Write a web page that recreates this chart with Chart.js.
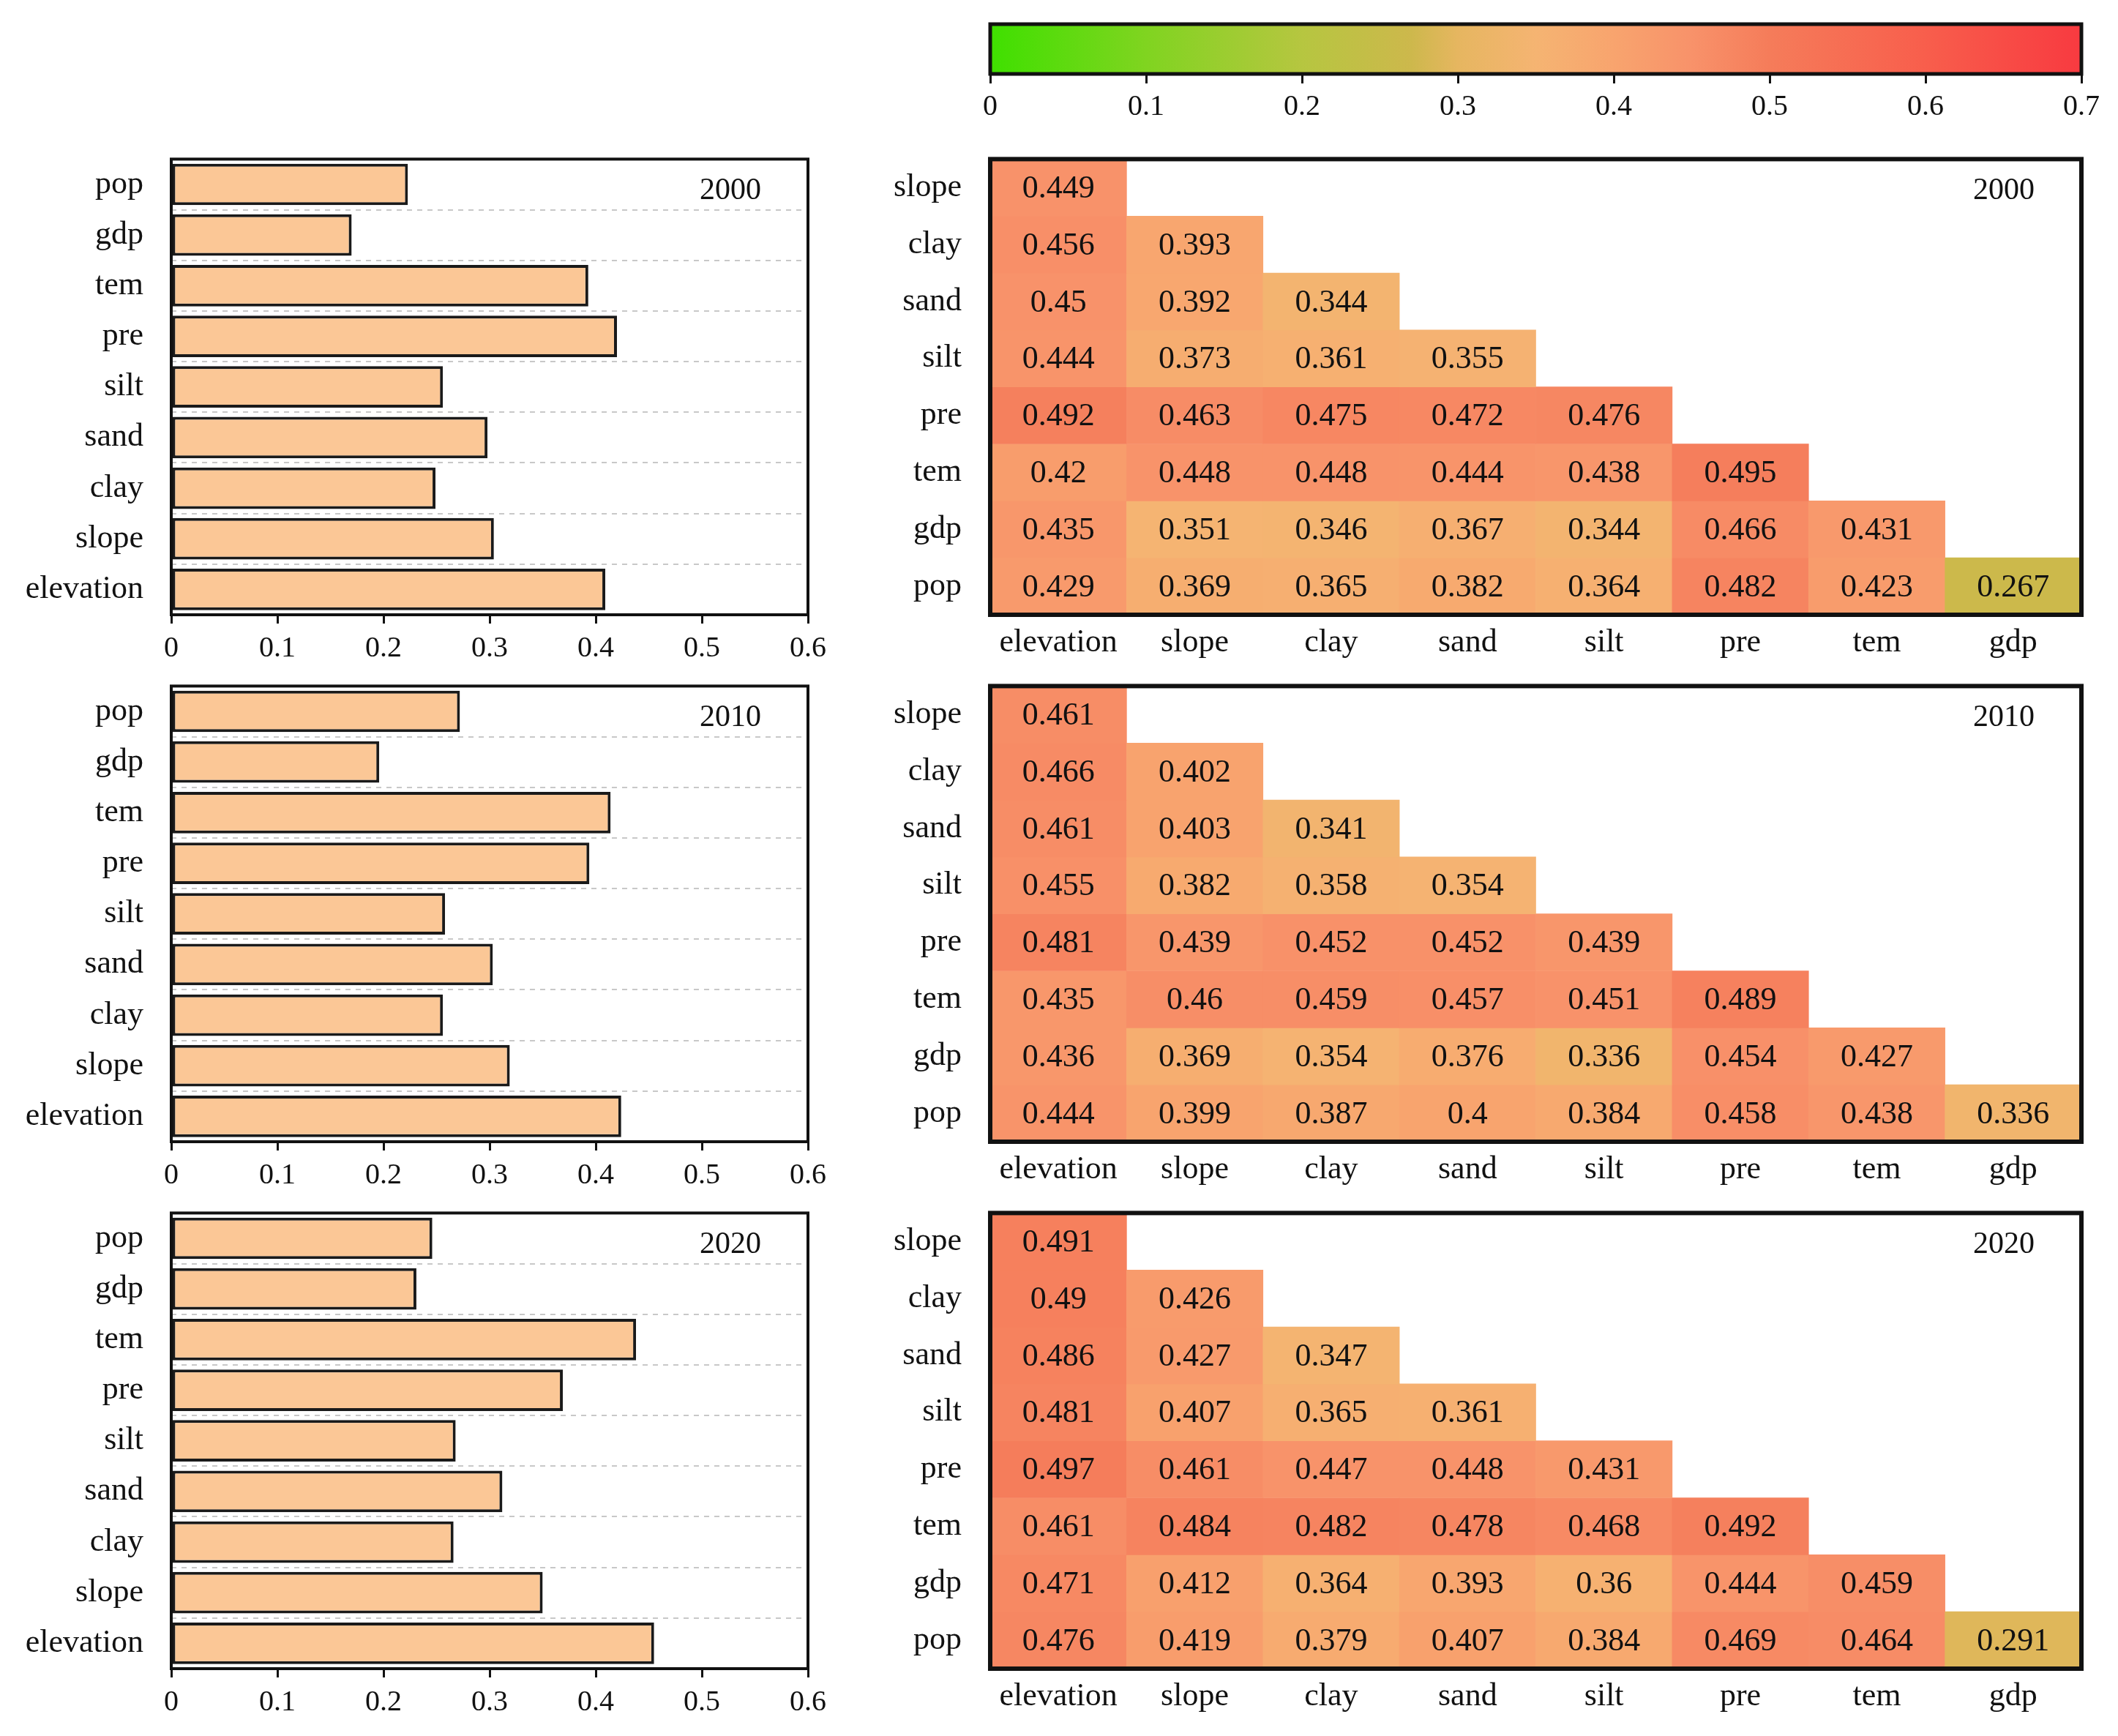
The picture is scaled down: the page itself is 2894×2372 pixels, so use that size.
<!DOCTYPE html>
<html><head><meta charset="utf-8">
<script src="https://cdn.jsdelivr.net/npm/chart.js@4/dist/chart.umd.min.js"></script>
<style>
html,body{margin:0;padding:0;background:#fff;}
body{width:2894px;height:2372px;position:relative;overflow:hidden;}
canvas{position:absolute;}
</style></head><body>
<canvas id="cb" width="1694" height="190" style="left:1200px;top:0px"></canvas>
<canvas id="bar0" width="1150" height="729" style="left:0px;top:191px"></canvas>
<canvas id="bar1" width="1150" height="729" style="left:0px;top:911px"></canvas>
<canvas id="bar2" width="1150" height="729" style="left:0px;top:1631px"></canvas>
<canvas id="heat0" width="1694" height="729" style="left:1200px;top:191px"></canvas>
<canvas id="heat1" width="1694" height="729" style="left:1200px;top:911px"></canvas>
<canvas id="heat2" width="1694" height="729" style="left:1200px;top:1631px"></canvas>
<script>
// ---------------- data ----------------
const years = ['2000', '2010', '2020'];
const barFactors = ['pop', 'gdp', 'tem', 'pre', 'silt', 'sand', 'clay', 'slope', 'elevation'];
const bar2000 = [0.223, 0.170, 0.393, 0.420, 0.256, 0.298, 0.249, 0.304, 0.409];
const bar2010 = [0.272, 0.196, 0.414, 0.394, 0.258, 0.303, 0.256, 0.319, 0.424];
const bar2020 = [0.246, 0.231, 0.438, 0.369, 0.268, 0.312, 0.266, 0.350, 0.455];
const barTicks = [0, 0.1, 0.2, 0.3, 0.4, 0.5, 0.6];

const heatRows = ['slope', 'clay', 'sand', 'silt', 'pre', 'tem', 'gdp', 'pop'];
const heatCols = ['elevation', 'slope', 'clay', 'sand', 'silt', 'pre', 'tem', 'gdp'];
const heat2000 = [
  [0.449],
  [0.456, 0.393],
  [0.45, 0.392, 0.344],
  [0.444, 0.373, 0.361, 0.355],
  [0.492, 0.463, 0.475, 0.472, 0.476],
  [0.42, 0.448, 0.448, 0.444, 0.438, 0.495],
  [0.435, 0.351, 0.346, 0.367, 0.344, 0.466, 0.431],
  [0.429, 0.369, 0.365, 0.382, 0.364, 0.482, 0.423, 0.267]
];
const heat2010 = [
  [0.461],
  [0.466, 0.402],
  [0.461, 0.403, 0.341],
  [0.455, 0.382, 0.358, 0.354],
  [0.481, 0.439, 0.452, 0.452, 0.439],
  [0.435, 0.46, 0.459, 0.457, 0.451, 0.489],
  [0.436, 0.369, 0.354, 0.376, 0.336, 0.454, 0.427],
  [0.444, 0.399, 0.387, 0.4, 0.384, 0.458, 0.438, 0.336]
];
const heat2020 = [
  [0.491],
  [0.49, 0.426],
  [0.486, 0.427, 0.347],
  [0.481, 0.407, 0.365, 0.361],
  [0.497, 0.461, 0.447, 0.448, 0.431],
  [0.461, 0.484, 0.482, 0.478, 0.468, 0.492],
  [0.471, 0.412, 0.364, 0.393, 0.36, 0.444, 0.459],
  [0.476, 0.419, 0.379, 0.407, 0.384, 0.469, 0.464, 0.291]
];
const colorbarTicks = [0, 0.1, 0.2, 0.3, 0.4, 0.5, 0.6, 0.7];

// ---------------- style ----------------
const FONT = '"Liberation Serif", "Times New Roman", serif';
Chart.defaults.font.family = FONT;
Chart.defaults.color = '#111';
const colorStops = [
  [0.00, '#3fe000'], [0.10, '#80d420'], [0.20, '#b6c640'], [0.27, '#cdb84c'],
  [0.30, '#e6b660'], [0.35, '#f5b472'], [0.40, '#f8a46e'], [0.45, '#f8926a'],
  [0.50, '#f57c5a'], [0.60, '#f85e4c'], [0.70, '#f83a40']
];
function hexToRgb(h) { return [1, 3, 5].map(i => parseInt(h.slice(i, i + 2), 16)); }
function colorFor(v) {
  if (v == null) return 'rgba(0,0,0,0)';
  if (v <= colorStops[0][0]) return colorStops[0][1];
  for (let i = 1; i < colorStops.length; i++) {
    if (v <= colorStops[i][0]) {
      const [v0, c0] = colorStops[i - 1], [v1, c1] = colorStops[i];
      const t = (v - v0) / (v1 - v0);
      const a = hexToRgb(c0), b = hexToRgb(c1);
      const m = a.map((x, k) => Math.round(x + (b[k] - x) * t));
      return `rgb(${m[0]},${m[1]},${m[2]})`;
    }
  }
  return colorStops[colorStops.length - 1][1];
}

const framePlugin = {
  id: 'frame',
  afterDraw(chart, args, opts) {
    const { ctx, chartArea: a } = chart;
    ctx.save();
    ctx.lineWidth = opts.width || 4;
    ctx.strokeStyle = '#111';
    ctx.strokeRect(a.left, a.top, a.right - a.left, a.bottom - a.top);
    ctx.restore();
  }
};
const yearPlugin = {
  id: 'yearLabel',
  afterDraw(chart, args, opts) {
    if (!opts.text) return;
    const { ctx, chartArea: a } = chart;
    ctx.save();
    ctx.font = '42px ' + FONT;
    ctx.fillStyle = '#111';
    ctx.textAlign = 'center';
    ctx.textBaseline = 'middle';
    ctx.fillText(opts.text, a.right - 106, a.top + 44);
    ctx.restore();
  }
};
const cellTextPlugin = {
  id: 'cellText',
  afterDatasetsDraw(chart) {
    const ctx = chart.ctx;
    ctx.save();
    ctx.font = '44px ' + FONT;
    ctx.fillStyle = '#111';
    ctx.textAlign = 'center';
    ctx.textBaseline = 'middle';
    chart.data.datasets.forEach((ds, r) => {
      const meta = chart.getDatasetMeta(r);
      meta.data.forEach((el, c) => {
        const v = ds.values[c];
        if (v == null) return;
        const p = el.getCenterPoint();
        ctx.fillText(String(v), p.x, p.y + 2);
      });
    });
    ctx.restore();
  }
};

// ---------------- colorbar ----------------
new Chart(document.getElementById('cb'), {
  type: 'bar',
  data: {
    labels: [''],
    datasets: [{
      data: [[colorbarTicks[0], colorbarTicks[colorbarTicks.length - 1]]],
      backgroundColor: (ctx) => {
        const ch = ctx.chart, xs = ch.scales.x;
        if (!xs || !ch.chartArea) return '#fff';
        const x0 = xs.getPixelForValue(colorbarTicks[0]);
        const x1 = xs.getPixelForValue(colorbarTicks[colorbarTicks.length - 1]);
        const g = ch.ctx.createLinearGradient(x0, 0, x1, 0);
        const span = colorbarTicks[colorbarTicks.length - 1] - colorbarTicks[0];
        colorStops.forEach(([v, c]) => g.addColorStop((v - colorbarTicks[0]) / span, c));
        return g;
      },
      borderWidth: 0, barPercentage: 1, categoryPercentage: 1
    }]
  },
  options: {
    indexAxis: 'y', responsive: false, animation: false, devicePixelRatio: 1,
    layout: { padding: { top: 33, left: 153, right: 50, bottom: 0 } },
    plugins: { legend: { display: false }, tooltip: { enabled: false }, frame: { width: 5 } },
    scales: {
      x: {
        type: 'linear', min: colorbarTicks[0], max: colorbarTicks[colorbarTicks.length - 1],
        afterBuildTicks: s => { s.ticks = colorbarTicks.map(v => ({ value: v })); },
        grid: { drawOnChartArea: false, drawTicks: true, tickLength: 13, color: '#111', lineWidth: 3 },
        border: { display: false },
        ticks: { font: { size: 40 }, color: '#111', padding: 8, maxRotation: 0 },
        afterFit: s => { s.height = 89; }
      },
      y: { display: false }
    }
  },
  plugins: [framePlugin]
});

// ---------------- bar charts ----------------
function barChart(id, values, year) {
  new Chart(document.getElementById(id), {
    type: 'bar',
    data: {
      labels: barFactors,
      datasets: [{
        data: values, backgroundColor: '#fbc796', borderColor: '#1a1a1a', borderWidth: 4,
        borderSkipped: false, barPercentage: 0.82, categoryPercentage: 1
      }]
    },
    options: {
      indexAxis: 'y', responsive: false, animation: false, devicePixelRatio: 1,
      layout: { padding: { top: 18, right: 46, left: 0, bottom: 0 } },
      plugins: { legend: { display: false }, tooltip: { enabled: false }, frame: { width: 4 }, yearLabel: { text: year } },
      scales: {
        x: {
          type: 'linear', min: barTicks[0], max: barTicks[barTicks.length - 1],
          afterBuildTicks: s => { s.ticks = barTicks.map(v => ({ value: v })); },
          grid: { drawOnChartArea: false, drawTicks: true, tickLength: 12, color: '#111', lineWidth: 3 },
          border: { display: false },
          ticks: { font: { size: 40 }, color: '#111', padding: 10, maxRotation: 0 },
          afterFit: s => { s.height = 80; }
        },
        y: {
          grid: { offset: true, drawTicks: true, tickLength: 38, tickColor: 'rgba(0,0,0,0)', color: '#c8c8c8', lineWidth: 2 },
          border: { display: false, dash: [7, 7] },
          ticks: { font: { size: 44 }, color: '#111', padding: 0 },
          afterFit: s => { s.width = 234; }
        }
      }
    },
    plugins: [framePlugin, yearPlugin]
  });
}

// ---------------- heatmaps ----------------
function heatChart(id, matrix, year) {
  const datasets = heatRows.map((row, r) => ({
    label: row,
    values: heatCols.map((col, c) => (matrix[r][c] == null ? null : matrix[r][c])),
    data: heatCols.map((col, c) => (matrix[r][c] == null ? null : [r - 0.5, r + 0.5])),
    backgroundColor: (ctx) => colorFor(matrix[r][ctx.dataIndex]),
    borderWidth: 0, grouped: false, barPercentage: 1, categoryPercentage: 1
  }));
  new Chart(document.getElementById(id), {
    type: 'bar',
    data: { labels: heatCols, datasets },
    options: {
      responsive: false, animation: false, devicePixelRatio: 1,
      layout: { padding: { top: 18, right: 50, left: 0, bottom: 0 } },
      plugins: { legend: { display: false }, tooltip: { enabled: false }, frame: { width: 6 }, yearLabel: { text: year } },
      scales: {
        x: {
          type: 'category', grid: { display: false, drawTicks: false }, border: { display: false },
          ticks: { font: { size: 44 }, color: '#111', padding: 12, maxRotation: 0 },
          afterFit: s => { s.height = 80; }
        },
        y: {
          type: 'linear', reverse: true, min: -0.5, max: heatRows.length - 0.5,
          afterBuildTicks: s => { s.ticks = heatRows.map((_, i) => ({ value: i })); },
          grid: { display: true, drawOnChartArea: false, drawTicks: true, tickLength: 39, tickColor: 'rgba(0,0,0,0)', color: 'rgba(0,0,0,0)' },
          border: { display: false },
          ticks: { font: { size: 44 }, color: '#111', padding: 0, callback: (v) => heatRows[v] },
          afterFit: s => { s.width = 153; }
        }
      }
    },
    plugins: [cellTextPlugin, framePlugin, yearPlugin]
  });
}

barChart('bar0', bar2000, years[0]);
barChart('bar1', bar2010, years[1]);
barChart('bar2', bar2020, years[2]);
heatChart('heat0', heat2000, years[0]);
heatChart('heat1', heat2010, years[1]);
heatChart('heat2', heat2020, years[2]);
</script>
</body></html>
